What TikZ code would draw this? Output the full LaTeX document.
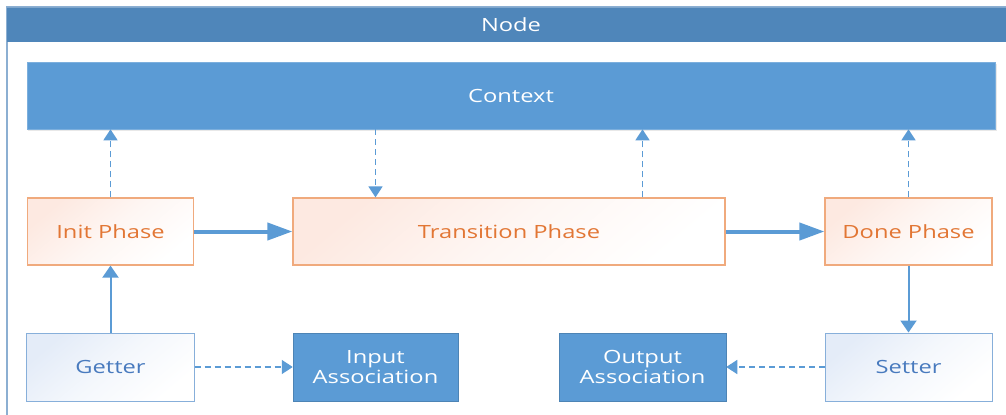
\documentclass[tikz,border=0pt]{standalone}
\usepackage{fontspec}
\setmainfont[FakeStretch=1.3]{Open Sans}
\usetikzlibrary{arrows.meta,shadows}
\definecolor{hdr}{RGB}{79,134,186}
\definecolor{mainblue}{RGB}{91,155,213}
\definecolor{frameline}{RGB}{140,175,210}
\definecolor{phaseborder}{RGB}{240,170,125}
\definecolor{phasefill}{RGB}{253,233,225}
\definecolor{phasetext}{RGB}{226,118,52}
\definecolor{ioborder}{RGB}{135,175,218}
\definecolor{iofill}{RGB}{228,236,248}
\definecolor{iotext}{RGB}{72,122,190}
\tikzset{
  basebox/.style={minimum height=67bp, inner sep=0pt, font=\fontsize{18.3}{19.5}\selectfont, align=center},
  ctxbox/.style={basebox, fill=mainblue, text=white, draw=mainblue!80!white, line width=0.6bp,
     drop shadow={shadow xshift=1.5bp, shadow yshift=-2bp, opacity=0.18}},
  phasebox/.style={basebox, draw=phaseborder, line width=1.2bp, text=phasetext,
     top color=phasefill, bottom color=white, middle color=phasefill!40!white, shading angle=40},
  gsbox/.style={basebox, draw=ioborder, line width=1bp, text=iotext,
     top color=iofill, bottom color=white, middle color=iofill!40!white, shading angle=40},
  assocbox/.style={basebox, fill=mainblue, text=white, draw=mainblue!85!black, line width=0.5bp,
     font=\fontsize{18.3}{19.5}\selectfont},
  thickarrow/.style={draw=mainblue, line width=4bp, -{Triangle[length=25bp,width=17bp]}},
  thinarrow/.style={draw=mainblue, line width=2bp, -{Triangle[length=12bp,width=16bp]}},
  dasharrow/.style={draw=mainblue, line width=1.5bp, dash pattern=on 6bp off 4bp, -{Triangle[length=11bp,width=14bp]}},
}
\begin{document}
\begin{tikzpicture}[x=1bp,y=-1bp]
\useasboundingbox (0,0) rectangle (1006,414);
\clip (0,0) rectangle (1006,414);
% outer frame
\draw[draw=frameline, line width=1.2bp, fill=white] (7,7) rectangle (1020,430);
\fill[hdr] (7,7) rectangle (1020,42);
\draw[draw=frameline!80!hdr, line width=1bp] (7,7) -- (1020,7);
\node[font=\fontsize{18.3}{19.5}\selectfont, text=white] (title) at (511,24.5) {Node};
% nodes
\node[ctxbox, minimum width=968bp] (ctx) at (511,95.5) {Context};
\node[phasebox, minimum width=166bp] (init) at (110.5,231.5) {Init Phase};
\node[phasebox, minimum width=432bp] (trans) at (509,231.5) {Transition Phase};
\node[phasebox, minimum width=167bp] (done) at (908.5,231.5) {Done Phase};
\node[gsbox, minimum width=167bp, minimum height=68bp] (getter) at (110.5,367) {Getter};
\node[assocbox, minimum width=165bp, minimum height=68bp] (inassoc) at (375.5,367) {Input\\Association};
\node[assocbox, minimum width=167bp, minimum height=68bp] (outassoc) at (642.5,367) {Output\\Association};
\node[gsbox, minimum width=167bp, minimum height=68bp] (setter) at (908.5,367) {Setter};
% connectors
\draw[dasharrow] (init.north) -- (ctx.south -| init.north);
\draw[dasharrow] (ctx.south -| inassoc.north) -- (trans.north -| inassoc.north);
\draw[dasharrow] (trans.north -| outassoc.north) -- (ctx.south -| outassoc.north);
\draw[dasharrow] (done.north) -- (ctx.south -| done.north);
\draw[thickarrow] (init.east) -- (trans.west);
\draw[thickarrow] (trans.east) -- (done.west);
\draw[thinarrow] (getter.north) -- (init.south);
\draw[thinarrow] (done.south) -- (setter.north);
\draw[dasharrow] (getter.east) -- (inassoc.west);
\draw[dasharrow] (setter.west) -- (outassoc.east);
\end{tikzpicture}
\end{document}
